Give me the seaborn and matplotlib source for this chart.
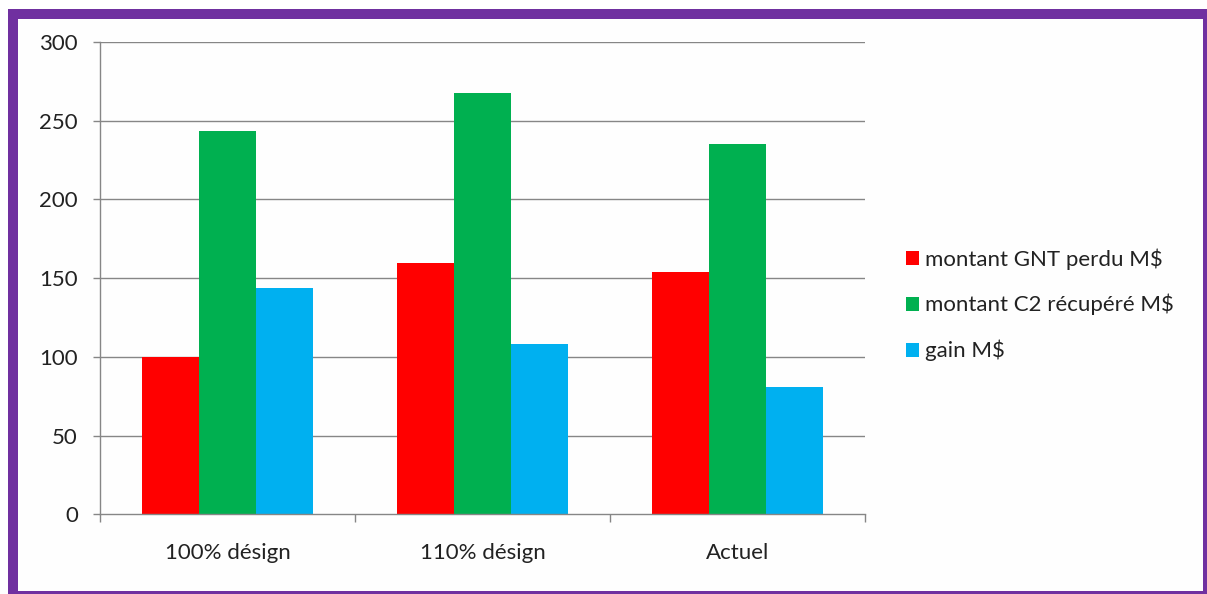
import matplotlib
matplotlib.use("Agg")
import matplotlib.pyplot as plt
from matplotlib.patches import Rectangle
import seaborn as sns
import pandas as pd

categories = ["100% désign", "110% désign", "Actuel"]
series_names = ["montant GNT perdu M$", "montant C2 récupéré M$", "gain M$"]
gnt_perdu = [100, 159.5, 154]
c2_recupere = [243.5, 267.5, 235.5]
gain = [143.5, 108, 81]
colors = ["#FF0000", "#00B050", "#00B0F0"]
y_ticks = [0, 50, 100, 150, 200, 250, 300]

rows = []
for name, vals in zip(series_names, [gnt_perdu, c2_recupere, gain]):
    for c, v in zip(categories, vals):
        rows.append({"cat": c, "serie": name, "val": v})
df = pd.DataFrame(rows)

sns.set_theme(style="white")
plt.rcParams['font.family'] = ['Lato', 'DejaVu Sans']

W, H = 1207, 594
fig = plt.figure(figsize=(W / 100, H / 100), dpi=100)
fig.patch.set_facecolor("white")

def px(x0, y0, x1, y1):
    return (x0 / W, 1 - y1 / H, (x1 - x0) / W, (y1 - y0) / H)

x, y, w, h = px(8, 9, 1207, 594)
fig.patches.append(Rectangle((x, y), w, h, transform=fig.transFigure,
                             facecolor="#7030A0", edgecolor="none", zorder=-2))
x, y, w, h = px(18, 19, 1203, 591)
fig.patches.append(Rectangle((x, y), w, h, transform=fig.transFigure,
                             facecolor="#FEFEFE", edgecolor="none", zorder=-1))

ax = fig.add_axes([100 / W, 1 - 514.3 / H, 765 / W, 472.3 / H])
ax.set_zorder(2)
ax.set_facecolor("none")

sns.barplot(data=df, x="cat", y="val", hue="serie", palette=colors,
            width=0.667, ax=ax, saturation=1, errorbar=None,
            edgecolor="none", linewidth=0, zorder=3)

ax.set_xlim(-0.5, 2.5)
ax.set_ylim(0, 300)
ax.set_yticks(y_ticks)
ax.set_yticklabels([str(t) for t in y_ticks])
ax.set_xlabel("")
ax.set_ylabel("")

gc = "#868686"
for t in y_ticks[1:]:
    ax.axhline(t, color=gc, lw=1.0, zorder=1)

for s in ["top", "right"]:
    ax.spines[s].set_visible(False)
for s in ["left", "bottom"]:
    ax.spines[s].set_color(gc)
    ax.spines[s].set_linewidth(1.0)
    ax.spines[s].set_zorder(4)

ax.tick_params(axis="y", which="major", direction="out", length=5, width=1,
               color=gc, pad=11, labelsize=16, labelcolor="#222222", left=True)
ax.set_xticks([0, 1, 2])
ax.set_xticklabels(categories)
ax.tick_params(axis="x", which="major", length=0, pad=21, labelsize=16,
               labelcolor="#222222")
ax.set_xticks([-0.5, 0.5, 1.5, 2.5], minor=True)
ax.tick_params(axis="x", which="minor", direction="out", length=6, width=1,
               color=gc, bottom=True)

handles, labels = ax.get_legend_handles_labels()
if ax.legend_:
    ax.legend_.remove()
leg = fig.legend(handles, labels, loc="upper left",
                 bbox_to_anchor=(906 / W, 1 - 248 / H),
                 frameon=False, fontsize=16, handlelength=0.59,
                 handleheight=0.59, handletextpad=0.28, labelspacing=1.1,
                 borderpad=0, borderaxespad=0)
for t in leg.get_texts():
    t.set_color("#222222")

fig.savefig("out.png", dpi=100, facecolor="white")
